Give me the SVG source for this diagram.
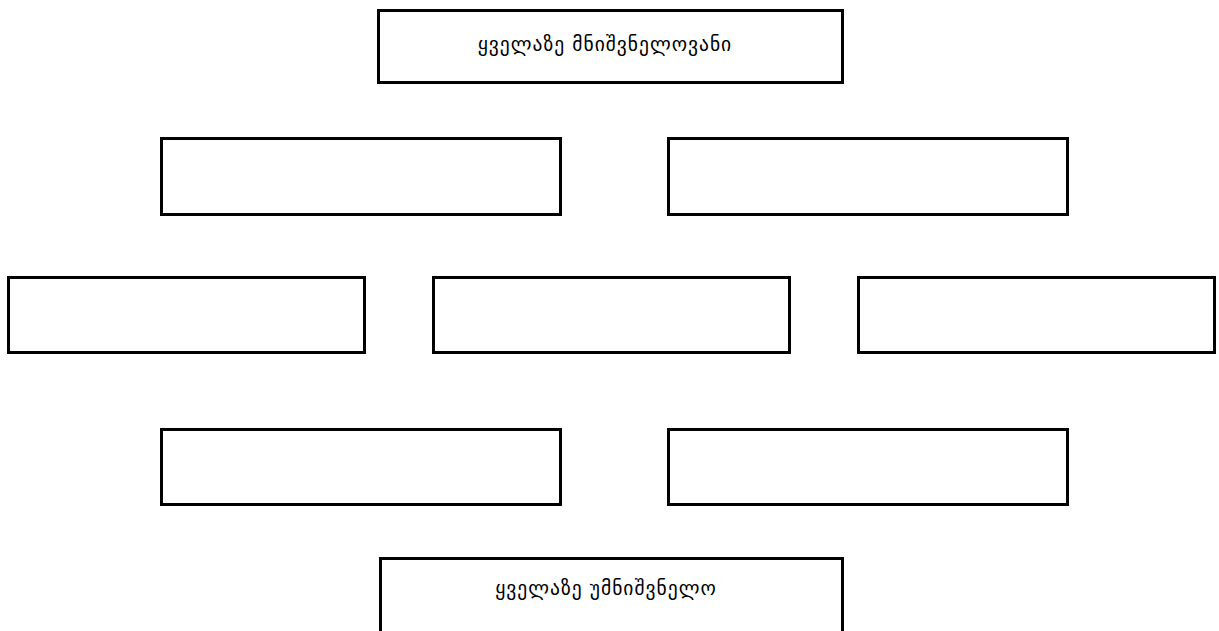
<svg xmlns="http://www.w3.org/2000/svg" width="1219" height="631" viewBox="0 0 1219 631">
<style>
.box{fill:#fff;stroke:#000;stroke-width:3}
.lbl{font-family:"DejaVu Sans",sans-serif;font-size:19.5px;letter-spacing:1px;fill:#000;text-anchor:middle}
</style>
<rect width="1219" height="631" fill="#fff"/>
<g id="top"><rect class="box" x="378.5" y="10.5" width="464" height="72"/><text class="lbl" x="605" y="51">ყველაზე მნიშვნელოვანი</text></g>
<g id="r2a"><rect class="box" x="161.5" y="138.5" width="399" height="76"/></g>
<g id="r2b"><rect class="box" x="668.5" y="138.5" width="399" height="76"/></g>
<g id="r3a"><rect class="box" x="8.5" y="277.5" width="356" height="75"/></g>
<g id="r3b"><rect class="box" x="433.5" y="277.5" width="356" height="75"/></g>
<g id="r3c"><rect class="box" x="858.5" y="277.5" width="356" height="75"/></g>
<g id="r4a"><rect class="box" x="161.5" y="429.5" width="399" height="75"/></g>
<g id="r4b"><rect class="box" x="668.5" y="429.5" width="399" height="75"/></g>
<g id="bottom"><rect class="box" x="380.5" y="558.5" width="462" height="80"/><text class="lbl" x="606" y="595">ყველაზე უმნიშვნელო</text></g>
<g id="connectors"></g>
</svg>
